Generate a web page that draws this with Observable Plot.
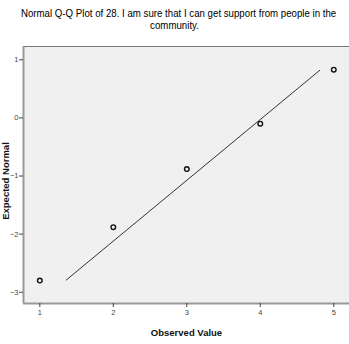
<!DOCTYPE html>
<html>
<head>
<meta charset="utf-8">
<script src="https://cdn.jsdelivr.net/npm/d3@7"></script>
<script src="https://cdn.jsdelivr.net/npm/@observablehq/plot@0.6"></script>
<style>
  body { margin: 0; background: #fff; }
  #title { width: 349px; height: 40px; text-align: center; font-family: "Liberation Sans", Arial, sans-serif; font-size: 11px; line-height: 12px; color: #000; padding-top: 7px; box-sizing: border-box; }
  #title span { display: block; white-space: nowrap; transform: scaleX(0.88); transform-origin: 50% 50%; }
  svg { display: block; }
</style>
</head>
<body>
<div id="title"><span>Normal Q-Q Plot of 28. I am sure that I can get support from people in the</span><span>community.</span></div>
<div id="chart"></div>
<script>
const observed = [1, 2, 3, 4, 5];
const expected = [-2.80, -1.88, -0.88, -0.10, 0.83];
const lineX = [1.36, 4.81];
const lineY = [-2.79, 0.82];
const xTicks = [1, 2, 3, 4, 5];
const yTicks = [1, 0, -1, -2, -3];

const points = observed.map((x, i) => ({x, y: expected[i]}));
const refLine = lineX.map((x, i) => ({x, y: lineY[i]}));

const xDom = [0.778, 5.214];
const yDom = [-3.194, 1.229];

const chart = Plot.plot({
  width: 349,
  height: 304,
  marginTop: 6,
  marginBottom: 41,
  marginLeft: 23,
  marginRight: 0,
  style: {fontFamily: "'Liberation Sans', Arial, sans-serif", fontSize: "7.5px", background: "#fff", overflow: "visible"},
  x: {domain: xDom},
  y: {domain: yDom},
  marks: [
    Plot.rect([{x1: xDom[0], x2: xDom[1], y1: yDom[0], y2: yDom[1]}], {x1: "x1", x2: "x2", y1: "y1", y2: "y2", fill: "#f0f0f0", stroke: "none"}),
    Plot.ruleY([yDom[1]], {stroke: "#777", strokeWidth: 1.2}),
    Plot.ruleX([xDom[0]], {stroke: "#999", strokeWidth: 2}),
    Plot.ruleY([yDom[0]], {stroke: "#999", strokeWidth: 2}),
    Plot.line(refLine, {x: "x", y: "y", stroke: "#333", strokeWidth: 1}),
    Plot.dot(points, {x: "x", y: "y", r: 2.3, stroke: "#111", strokeWidth: 1.4, fill: "none"}),
    Plot.axisX({ticks: xTicks, tickFormat: d3.format("d"), tickSize: 4, tickPadding: 2, color: "#444", label: "Observed Value", labelAnchor: "center", labelArrow: "none", labelOffset: 32}),
    Plot.axisY({ticks: yTicks, tickFormat: d3.format("d"), tickSize: 4, tickPadding: 1, color: "#444", label: "Expected Normal", labelAnchor: "center", labelArrow: "none", labelOffset: 21})
  ]
});
document.getElementById("chart").appendChild(chart);
chart.querySelectorAll("g[aria-label='x-axis label'] text, g[aria-label='y-axis label'] text").forEach(t => {
  t.setAttribute("font-weight", "bold");
  t.setAttribute("font-size", "9.5px");
  t.setAttribute("fill", "#111");
});
const yl = chart.querySelector("g[aria-label='y-axis label']");
if (yl) {
  const tr = yl.getAttribute("transform") || "";
  yl.setAttribute("transform", "translate(0,6) " + tr);
}
</script>
</body>
</html>
